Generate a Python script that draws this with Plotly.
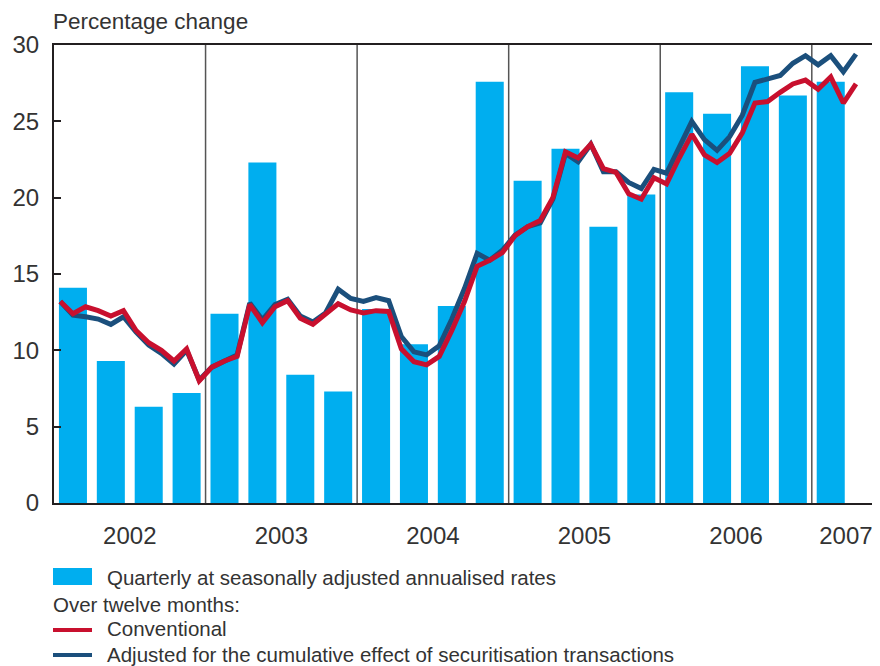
import plotly.graph_objects as go
import pandas as pd

# quarterly growth, seasonally adjusted annualised rates (2002Q1 - 2007Q1)
quarters = pd.period_range("2002Q1", "2007Q1", freq="Q").astype(str).tolist()
quarterly = [14.1, 9.3, 6.3, 7.2,
             12.4, 22.3, 8.4, 7.3,
             12.7, 10.4, 12.9, 27.6,
             21.1, 23.2, 18.1, 20.2,
             26.9, 25.5, 28.6, 26.7,
             27.6]

# twelve-month growth, monthly (Jan 2002 - Apr 2007)
months = pd.period_range("2002-01", "2007-04", freq="M").astype(str).tolist()
conventional = [13.2, 12.4, 12.85, 12.6, 12.25, 12.6, 11.3, 10.5, 10.0, 9.3, 10.1, 8.0,
                8.9, 9.3, 9.6, 13.0, 11.8, 12.85, 13.25, 12.1, 11.7, 12.4, 13.05, 12.65,
                12.45, 12.6, 12.55, 10.1, 9.25, 9.05, 9.6, 11.3, 13.2, 15.5, 15.9, 16.4,
                17.5, 18.1, 18.5, 20.0, 23.0, 22.6, 23.5, 21.9, 21.65, 20.25, 19.9, 21.3,
                20.9, 22.6, 24.15, 22.8, 22.3, 22.9, 24.25, 26.2, 26.3, 26.9, 27.45, 27.7,
                27.1, 27.9, 26.2, 27.45]
adjusted = [13.2, 12.3, 12.2, 12.05, 11.7, 12.2, 11.2, 10.35, 9.8, 9.1, 10.0, 8.05,
            8.9, 9.3, 9.7, 13.1, 12.0, 13.0, 13.35, 12.25, 11.85, 12.45, 14.0, 13.4,
            13.2, 13.45, 13.25, 10.9, 9.9, 9.7, 10.3, 12.05, 14.05, 16.35, 15.9, 16.55,
            17.55, 18.1, 18.35, 19.9, 22.9, 22.35, 23.5, 21.7, 21.7, 21.0, 20.6, 21.85,
            21.6, 23.3, 25.0, 23.8, 23.1, 24.0, 25.4, 27.55, 27.75, 28.0, 28.8, 29.3,
            28.7, 29.3, 28.25, 29.4]

years = ["2002", "2003", "2004", "2005", "2006", "2007"]

BAR = "#00aeef"
RED = "#c8102e"
NAVY = "#1b4f7c"
INK = "#231f20"
TXT = "#333333"
FONT = "Liberation Sans"

x_end = 2007.45


def month_pos(m):
    p = pd.Period(m, freq="M")
    return p.year + (p.month - 0.5) / 12


def quarter_pos(q):
    p = pd.Period(q, freq="Q")
    return p.year + (p.quarter - 0.5) / 4


mx = [month_pos(m) for m in months]
qx = [quarter_pos(q) for q in quarters]

year_lab_x = [int(y) + 0.5 for y in years[:-1]] + [(int(years[-1]) + x_end) / 2]

fig = go.Figure()
fig.add_trace(go.Bar(x=qx, y=quarterly, width=0.185, marker=dict(color=BAR, line_width=0),
                     name="Quarterly at seasonally adjusted annualised rates"))
fig.add_trace(go.Scatter(x=mx, y=adjusted, mode="lines", line=dict(color=NAVY, width=5),
                         name="Adjusted for the cumulative effect of securitisation transactions"))
fig.add_trace(go.Scatter(x=mx, y=conventional, mode="lines", line=dict(color=RED, width=5),
                         name="Conventional"))

# year separators
for y in years[1:]:
    fig.add_vline(x=int(y), line=dict(color="#555555", width=1.5), layer="below")

# page body has an 8px margin, so the figure is shrunk by that much
W, H = 872, 658
L, R, T, B = 46, 0, 37, 163
PLOT_L, PLOT_B = 54, 503  # plot area in page pixels


def px(x):
    return (x - PLOT_L) / (W - L - R)


def py(y):
    return (PLOT_B - y) / (H - T - B)


# legend drawn by hand
fig.add_shape(type="rect", xref="paper", yref="paper", x0=px(53), x1=px(92), y0=py(585), y1=py(568),
              fillcolor=BAR, line_width=0)
fig.add_shape(type="line", xref="paper", yref="paper", x0=px(53), x1=px(92), y0=py(630), y1=py(630),
              line=dict(color=RED, width=4))
fig.add_shape(type="line", xref="paper", yref="paper", x0=px(53), x1=px(92), y0=py(655), y1=py(655),
              line=dict(color=NAVY, width=4))

legend_text = [
    (107, 577, "Quarterly at seasonally adjusted annualised rates"),
    (53, 604, "Over twelve months:"),
    (107, 629, "Conventional"),
    (107, 654, "Adjusted for the cumulative effect of securitisation transactions"),
]
for lx, ly, t in legend_text:
    fig.add_annotation(x=px(lx), y=py(ly), xref="paper", yref="paper", text=t, showarrow=False,
                       xanchor="left", yanchor="middle", xshift=-2,
                       font=dict(family=FONT, size=20.5, color=TXT))

fig.add_annotation(x=px(53), y=py(21), xref="paper", yref="paper", text="Percentage change",
                   showarrow=False, xanchor="left", yanchor="middle", xshift=-2,
                   font=dict(family=FONT, size=22.5, color=TXT))

fig.update_layout(
    width=W, height=H,
    margin=dict(l=L, r=R, t=T, b=B),
    plot_bgcolor="white", paper_bgcolor="white",
    showlegend=False,
    font=dict(family=FONT, size=24, color=TXT),
)
fig.update_xaxes(range=[2002, x_end], tickvals=year_lab_x, ticktext=years, ticks="",
                 showline=True, mirror=True, linecolor=INK, linewidth=2, showgrid=False,
                 zeroline=False, ticklabelstandoff=10)
fig.update_yaxes(range=[0, 30], tickvals=[0, 5, 10, 15, 20, 25, 30], ticks="inside", ticklen=7,
                 tickwidth=2, tickcolor=INK, showline=True, linecolor=INK, linewidth=2,
                 showgrid=False, zeroline=False, ticklabelstandoff=8)

fig.write_html("out.html")
